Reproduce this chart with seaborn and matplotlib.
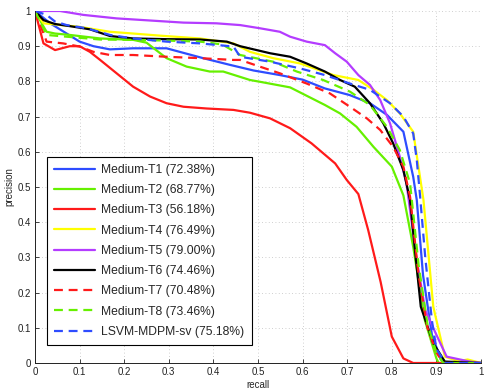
import numpy as np
import matplotlib
matplotlib.use("Agg")
import matplotlib.pyplot as plt
import seaborn as sns
import pandas as pd
from matplotlib.ticker import FuncFormatter

# curvas precision-recall
r_t1 = [0, 0.034, 0.071, 0.10, 0.131, 0.168, 0.22, 0.295, 0.377, 0.437, 0.49, 0.549, 0.60, 0.65, 0.706, 0.751, 0.789, 0.826, 0.848, 0.856, 0.87, 0.89, 0.91, 0.92, 1.0]
p_t1 = [1, 0.965, 0.936, 0.913, 0.90, 0.891, 0.894, 0.894, 0.866, 0.847, 0.831, 0.818, 0.805, 0.78, 0.761, 0.738, 0.705, 0.657, 0.529, 0.463, 0.25, 0.08, 0.01, 0.0, 0.0]

r_t2 = [0, 0.019, 0.026, 0.045, 0.078, 0.146, 0.22, 0.25, 0.295, 0.34, 0.392, 0.422, 0.482, 0.504, 0.572, 0.65, 0.684, 0.721, 0.759, 0.80, 0.826, 0.848, 0.874, 0.90, 0.905, 1.0]
p_t2 = [1, 0.956, 0.941, 0.936, 0.932, 0.922, 0.918, 0.91, 0.866, 0.842, 0.828, 0.828, 0.804, 0.799, 0.783, 0.733, 0.709, 0.671, 0.614, 0.558, 0.476, 0.33, 0.122, 0.013, 0.0, 0.0]

r_t3 = [0, 0.019, 0.045, 0.078, 0.10, 0.123, 0.146, 0.183, 0.22, 0.258, 0.295, 0.333, 0.385, 0.445, 0.482, 0.527, 0.572, 0.62, 0.673, 0.699, 0.725, 0.747, 0.775, 0.80, 0.826, 0.848, 1.0]
p_t3 = [1, 0.908, 0.889, 0.90, 0.90, 0.884, 0.861, 0.823, 0.785, 0.757, 0.738, 0.728, 0.723, 0.719, 0.711, 0.695, 0.667, 0.624, 0.567, 0.52, 0.48, 0.378, 0.23, 0.075, 0.013, 0.0, 0.0]

r_t4 = [0, 0.019, 0.10, 0.168, 0.22, 0.28, 0.37, 0.445, 0.482, 0.534, 0.594, 0.669, 0.725, 0.759, 0.789, 0.818, 0.848, 0.871, 0.893, 0.919, 0.95, 0.97, 1.0]
p_t4 = [1, 0.965, 0.955, 0.941, 0.936, 0.93, 0.922, 0.908, 0.884, 0.866, 0.851, 0.818, 0.804, 0.776, 0.747, 0.709, 0.657, 0.463, 0.16, 0.018, 0.005, 0.01, 0.0]

r_t5 = [0, 0.056, 0.108, 0.183, 0.258, 0.333, 0.407, 0.46, 0.504, 0.549, 0.572, 0.609, 0.65, 0.673, 0.699, 0.725, 0.751, 0.774, 0.796, 0.818, 0.833, 0.855, 0.875, 0.90, 0.923, 0.975, 1.0]
p_t5 = [1, 1.0, 0.989, 0.979, 0.973, 0.967, 0.965, 0.96, 0.951, 0.941, 0.927, 0.913, 0.903, 0.88, 0.856, 0.818, 0.79, 0.747, 0.681, 0.586, 0.51, 0.30, 0.15, 0.08, 0.018, 0.004, 0.0]

r_t6 = [0, 0.019, 0.045, 0.078, 0.123, 0.168, 0.22, 0.295, 0.37, 0.43, 0.46, 0.527, 0.572, 0.609, 0.65, 0.684, 0.717, 0.751, 0.781, 0.803, 0.826, 0.841, 0.852, 0.865, 0.893, 0.919, 1.0]
p_t6 = [1, 0.974, 0.963, 0.957, 0.948, 0.929, 0.922, 0.92, 0.919, 0.913, 0.90, 0.88, 0.87, 0.851, 0.828, 0.804, 0.785, 0.738, 0.681, 0.624, 0.548, 0.463, 0.32, 0.16, 0.056, 0.004, 0.0]

r_t7 = [0, 0.026, 0.063, 0.10, 0.131, 0.168, 0.22, 0.295, 0.37, 0.445, 0.46, 0.504, 0.549, 0.609, 0.661, 0.706, 0.744, 0.774, 0.803, 0.826, 0.841, 0.86, 0.88, 0.90, 0.915, 1.0]
p_t7 = [1, 0.913, 0.908, 0.899, 0.884, 0.875, 0.875, 0.87, 0.866, 0.861, 0.861, 0.842, 0.823, 0.794, 0.766, 0.728, 0.695, 0.662, 0.614, 0.558, 0.472, 0.25, 0.10, 0.03, 0.0, 0.0]

r_t8 = [0, 0.026, 0.071, 0.146, 0.22, 0.295, 0.37, 0.42, 0.46, 0.534, 0.587, 0.646, 0.706, 0.751, 0.789, 0.818, 0.841, 0.86, 0.88, 0.90, 0.915, 1.0]
p_t8 = [1, 0.932, 0.927, 0.919, 0.918, 0.916, 0.913, 0.905, 0.875, 0.856, 0.828, 0.804, 0.771, 0.733, 0.671, 0.605, 0.51, 0.28, 0.11, 0.03, 0.0, 0.0]

r_lsvm = [0, 0.026, 0.045, 0.071, 0.116, 0.168, 0.22, 0.295, 0.37, 0.445, 0.46, 0.527, 0.594, 0.65, 0.706, 0.751, 0.796, 0.826, 0.848, 0.856, 0.863, 0.875, 0.89, 0.90, 0.92, 1.0]
p_lsvm = [1, 0.989, 0.97, 0.96, 0.951, 0.932, 0.922, 0.913, 0.908, 0.899, 0.87, 0.856, 0.837, 0.818, 0.794, 0.776, 0.738, 0.70, 0.652, 0.577, 0.48, 0.30, 0.12, 0.04, 0.0, 0.0]

nomes = ["Medium-T1 (72.38%)", "Medium-T2 (68.77%)", "Medium-T3 (56.18%)",
         "Medium-T4 (76.49%)", "Medium-T5 (79.00%)", "Medium-T6 (74.46%)",
         "Medium-T7 (70.48%)", "Medium-T8 (73.46%)", "LSVM-MDPM-sv (75.18%)"]
recalls = [r_t1, r_t2, r_t3, r_t4, r_t5, r_t6, r_t7, r_t8, r_lsvm]
precisoes = [p_t1, p_t2, p_t3, p_t4, p_t5, p_t6, p_t7, p_t8, p_lsvm]
cores = ["#2e4cff", "#66f000", "#ff1a1a", "#ffff00", "#b43cff", "#000000",
         "#ff1a1a", "#66f000", "#2e4cff"]
estilos = ["-", "-", "-", "-", "-", "-", "--", "--", "--"]

sns.set_style("white")
plt.rcParams["font.family"] = ["Liberation Sans", "DejaVu Sans"]

fig = plt.figure(figsize=(4.89, 3.91), dpi=100)
ax = fig.add_axes([35 / 489, 28 / 391, 446 / 489, 352 / 391])

for nome, r, p, cor, ls in zip(nomes, recalls, precisoes, cores, estilos):
    df = pd.DataFrame({"recall": r, "precision": p})
    sns.lineplot(data=df, x="recall", y="precision", ax=ax, color=cor,
                 linestyle=ls, linewidth=1.6, label=nome, sort=False,
                 dashes=False)

for linha in ax.get_lines():
    if linha.get_linestyle() == "--":
        linha.set_dashes([4, 2.6])

ax.set_xlim(0, 1)
ax.set_ylim(0, 1)
ax.set_xticks(np.arange(0, 1.01, 0.1))
ax.set_yticks(np.arange(0, 1.01, 0.1))
fmt = FuncFormatter(lambda v, pos: "%g" % round(v, 2))
ax.xaxis.set_major_formatter(fmt)
ax.yaxis.set_major_formatter(fmt)
ax.tick_params(direction="in", length=3, width=0.6, labelsize=7, pad=3,
               colors="#222222", bottom=True, left=True)
ax.grid(True, linestyle=(0, (1, 3)), color="#c0c0c0", linewidth=0.6)
for lado in ["top", "right"]:
    ax.spines[lado].set_visible(False)
for lado in ["left", "bottom"]:
    ax.spines[lado].set_color("#222222")
    ax.spines[lado].set_linewidth(0.7)

ax.set_xlabel("recall", fontsize=7, labelpad=2)
ax.set_ylabel("precision", fontsize=7, labelpad=2)

leg = ax.legend(loc="lower left", bbox_to_anchor=(0.027, 0.051),
                borderaxespad=0, fontsize=8.7, frameon=True, fancybox=False,
                edgecolor="black", handlelength=3.4, handletextpad=0.5,
                labelspacing=0.68, borderpad=0.6)
leg.get_frame().set_linewidth(0.8)
leg.get_frame().set_alpha(1)

fig.savefig("out.png", dpi=100)
